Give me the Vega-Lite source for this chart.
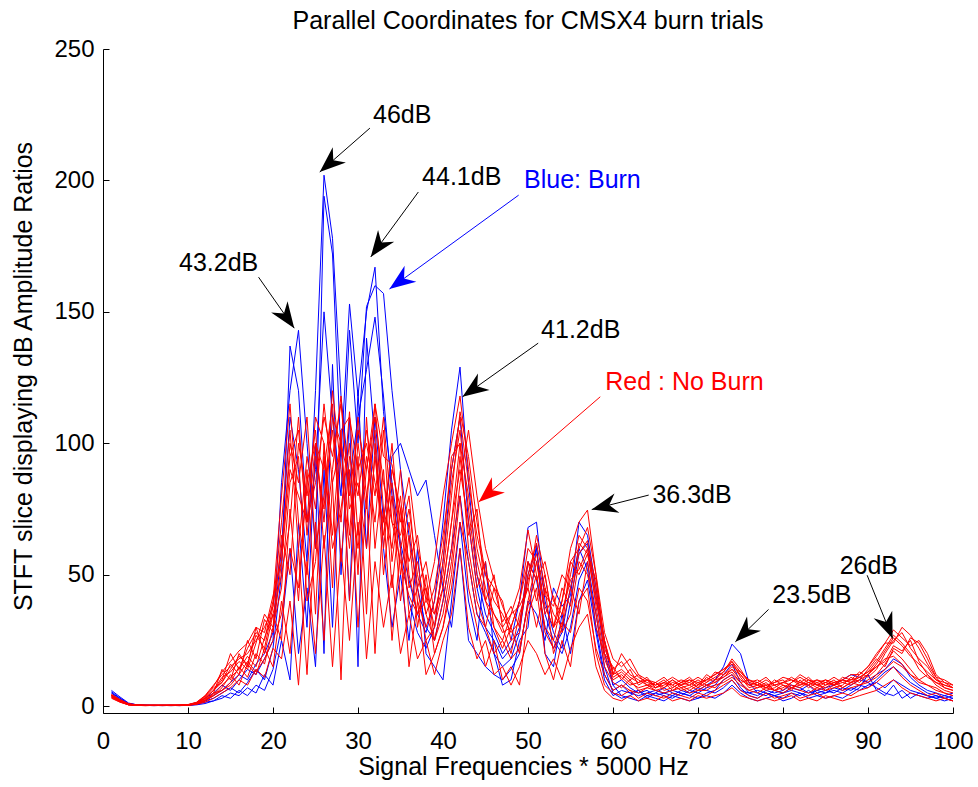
{
"$schema":"https://vega.github.io/schema/vega-lite/v6.json",
"autosize":{"type":"none"},
"width":850,"height":664,
"padding":{"left":103,"top":49,"right":25,"bottom":74},
"background":"white",
"title":{"text":"Parallel Coordinates for CMSX4 burn trials","font":"Liberation Sans","fontSize":25,"fontWeight":"normal","color":"black","anchor":"middle","offset":3},
"config":{"view":{"stroke":null},"font":"Liberation Sans",
"axis":{"grid":false,"domainColor":"black","domainWidth":1,"tickColor":"black","tickSize":-6,"labelFont":"Liberation Sans","labelFontSize":24,"labelColor":"black","titleFont":"Liberation Sans","titleFontSize":25,"titleFontWeight":"normal","titleColor":"black","labelFlush":false}},
"datasets":{
"notes":[
{"t":"46dB","k":"note","tx":35.2,"ty":224.9,"ax":31.4,"ay":219.9,"bx":25.5,"by":203.2},
{"t":"44.1dB","k":"note","tx":42.2,"ty":201.3,"ax":37.1,"ay":195.6,"bx":31.5,"by":170.9},
{"t":"Blue: Burn","k":"burn","tx":56.4,"ty":200.2,"ax":48.9,"ay":194.4,"bx":33.7,"by":158.7},
{"t":"43.2dB","k":"note","tx":13.6,"ty":168.6,"ax":18.3,"ay":163.2,"bx":22.5,"by":143.8},
{"t":"41.2dB","k":"note","tx":56.2,"ty":143.1,"ax":51.2,"ay":138.1,"bx":42.3,"by":117.7},
{"t":"Red : No Burn","k":"noburn","tx":68.4,"ty":123.3,"ax":58.5,"ay":117.7,"bx":44.2,"by":77.7},
{"t":"36.3dB","k":"note","tx":69.3,"ty":80.3,"ax":64.2,"ay":80.3,"bx":57.5,"by":74.8},
{"t":"23.5dB","k":"note","tx":83.4,"ty":42.2,"ax":78.3,"ay":36.8,"bx":74.4,"by":24.5},
{"t":"26dB","k":"note","tx":90.1,"ty":53.3,"ax":89.9,"ay":49.8,"bx":92.9,"by":25.7}
],
"lines":[
{"s":"b1","x":1,"y":5.5},{"s":"b1","x":2,"y":3},{"s":"b1","x":3,"y":1},{"s":"b1","x":4,"y":0.5},{"s":"b1","x":5,"y":0.3},{"s":"b1","x":6,"y":0.3},{"s":"b1","x":7,"y":0.3},{"s":"b1","x":8,"y":0.2},{"s":"b1","x":9,"y":0.3},{"s":"b1","x":10,"y":0.4},
{"s":"b1","x":11,"y":1},{"s":"b1","x":12,"y":2},{"s":"b1","x":13,"y":4},{"s":"b1","x":14,"y":6},{"s":"b1","x":15,"y":9},{"s":"b1","x":16,"y":12},{"s":"b1","x":17,"y":10},{"s":"b1","x":18,"y":16},{"s":"b1","x":19,"y":20},{"s":"b1","x":20,"y":28},
{"s":"b1","x":21,"y":60},{"s":"b1","x":22,"y":110},{"s":"b1","x":23,"y":90},{"s":"b1","x":24,"y":55},{"s":"b1","x":25,"y":120},{"s":"b1","x":26,"y":202},{"s":"b1","x":27,"y":178},{"s":"b1","x":28,"y":118},{"s":"b1","x":29,"y":85},{"s":"b1","x":30,"y":110},
{"s":"b1","x":31,"y":128},{"s":"b1","x":32,"y":148},{"s":"b1","x":33,"y":118},{"s":"b1","x":34,"y":80},{"s":"b1","x":35,"y":60},{"s":"b1","x":36,"y":40},{"s":"b1","x":37,"y":28},{"s":"b1","x":38,"y":22},{"s":"b1","x":39,"y":30},{"s":"b1","x":40,"y":55},
{"s":"b1","x":41,"y":90},{"s":"b1","x":42,"y":110},{"s":"b1","x":43,"y":70},{"s":"b1","x":44,"y":45},{"s":"b1","x":45,"y":30},{"s":"b1","x":46,"y":25},{"s":"b1","x":47,"y":18},{"s":"b1","x":48,"y":22},{"s":"b1","x":49,"y":30},{"s":"b1","x":50,"y":55},
{"s":"b1","x":51,"y":48},{"s":"b1","x":52,"y":30},{"s":"b1","x":53,"y":22},{"s":"b1","x":54,"y":28},{"s":"b1","x":55,"y":45},{"s":"b1","x":56,"y":60},{"s":"b1","x":57,"y":52},{"s":"b1","x":58,"y":30},{"s":"b1","x":59,"y":12},{"s":"b1","x":60,"y":6},
{"s":"b1","x":61,"y":8},{"s":"b1","x":62,"y":5},{"s":"b1","x":63,"y":6},{"s":"b1","x":64,"y":4},{"s":"b1","x":65,"y":5},{"s":"b1","x":66,"y":7},{"s":"b1","x":67,"y":5},{"s":"b1","x":68,"y":4},{"s":"b1","x":69,"y":6},{"s":"b1","x":70,"y":5},
{"s":"b1","x":71,"y":7},{"s":"b1","x":72,"y":8},{"s":"b1","x":73,"y":12},{"s":"b1","x":74,"y":16},{"s":"b1","x":75,"y":9},{"s":"b1","x":76,"y":5},{"s":"b1","x":77,"y":4},{"s":"b1","x":78,"y":6},{"s":"b1","x":79,"y":5},{"s":"b1","x":80,"y":6},
{"s":"b1","x":81,"y":8},{"s":"b1","x":82,"y":7},{"s":"b1","x":83,"y":5},{"s":"b1","x":84,"y":6},{"s":"b1","x":85,"y":5},{"s":"b1","x":86,"y":7},{"s":"b1","x":87,"y":6},{"s":"b1","x":88,"y":8},{"s":"b1","x":89,"y":10},{"s":"b1","x":90,"y":9},
{"s":"b1","x":91,"y":12},{"s":"b1","x":92,"y":14},{"s":"b1","x":93,"y":18},{"s":"b1","x":94,"y":16},{"s":"b1","x":95,"y":11},{"s":"b1","x":96,"y":8},{"s":"b1","x":97,"y":6},{"s":"b1","x":98,"y":5},{"s":"b1","x":99,"y":4},{"s":"b1","x":100,"y":5},
{"s":"b2","x":1,"y":5},{"s":"b2","x":2,"y":3},{"s":"b2","x":3,"y":1},{"s":"b2","x":4,"y":0.4},{"s":"b2","x":5,"y":0.3},{"s":"b2","x":6,"y":0.3},{"s":"b2","x":7,"y":0.2},{"s":"b2","x":8,"y":0.3},{"s":"b2","x":9,"y":0.3},{"s":"b2","x":10,"y":0.5},
{"s":"b2","x":11,"y":1.2},{"s":"b2","x":12,"y":3},{"s":"b2","x":13,"y":5},{"s":"b2","x":14,"y":8},{"s":"b2","x":15,"y":6},{"s":"b2","x":16,"y":10},{"s":"b2","x":17,"y":14},{"s":"b2","x":18,"y":12},{"s":"b2","x":19,"y":18},{"s":"b2","x":20,"y":25},
{"s":"b2","x":21,"y":85},{"s":"b2","x":22,"y":120},{"s":"b2","x":23,"y":143},{"s":"b2","x":24,"y":100},{"s":"b2","x":25,"y":60},{"s":"b2","x":26,"y":194},{"s":"b2","x":27,"y":172},{"s":"b2","x":28,"y":95},{"s":"b2","x":29,"y":153},{"s":"b2","x":30,"y":118},
{"s":"b2","x":31,"y":150},{"s":"b2","x":32,"y":167},{"s":"b2","x":33,"y":112},{"s":"b2","x":34,"y":85},{"s":"b2","x":35,"y":62},{"s":"b2","x":36,"y":48},{"s":"b2","x":37,"y":35},{"s":"b2","x":38,"y":28},{"s":"b2","x":39,"y":40},{"s":"b2","x":40,"y":70},
{"s":"b2","x":41,"y":105},{"s":"b2","x":42,"y":129},{"s":"b2","x":43,"y":85},{"s":"b2","x":44,"y":50},{"s":"b2","x":45,"y":35},{"s":"b2","x":46,"y":28},{"s":"b2","x":47,"y":20},{"s":"b2","x":48,"y":25},{"s":"b2","x":49,"y":40},{"s":"b2","x":50,"y":68},
{"s":"b2","x":51,"y":70},{"s":"b2","x":52,"y":40},{"s":"b2","x":53,"y":28},{"s":"b2","x":54,"y":22},{"s":"b2","x":55,"y":40},{"s":"b2","x":56,"y":58},{"s":"b2","x":57,"y":62},{"s":"b2","x":58,"y":42},{"s":"b2","x":59,"y":20},{"s":"b2","x":60,"y":8},
{"s":"b2","x":61,"y":10},{"s":"b2","x":62,"y":7},{"s":"b2","x":63,"y":5},{"s":"b2","x":64,"y":6},{"s":"b2","x":65,"y":4},{"s":"b2","x":66,"y":5},{"s":"b2","x":67,"y":6},{"s":"b2","x":68,"y":5},{"s":"b2","x":69,"y":4},{"s":"b2","x":70,"y":6},
{"s":"b2","x":71,"y":8},{"s":"b2","x":72,"y":10},{"s":"b2","x":73,"y":15},{"s":"b2","x":74,"y":23.6},{"s":"b2","x":75,"y":20},{"s":"b2","x":76,"y":9},{"s":"b2","x":77,"y":5},{"s":"b2","x":78,"y":4},{"s":"b2","x":79,"y":6},{"s":"b2","x":80,"y":5},
{"s":"b2","x":81,"y":7},{"s":"b2","x":82,"y":6},{"s":"b2","x":83,"y":8},{"s":"b2","x":84,"y":5},{"s":"b2","x":85,"y":6},{"s":"b2","x":86,"y":5},{"s":"b2","x":87,"y":7},{"s":"b2","x":88,"y":6},{"s":"b2","x":89,"y":8},{"s":"b2","x":90,"y":7},
{"s":"b2","x":91,"y":10},{"s":"b2","x":92,"y":13},{"s":"b2","x":93,"y":15},{"s":"b2","x":94,"y":12},{"s":"b2","x":95,"y":9},{"s":"b2","x":96,"y":7},{"s":"b2","x":97,"y":5},{"s":"b2","x":98,"y":4},{"s":"b2","x":99,"y":3},{"s":"b2","x":100,"y":4},
{"s":"b3","x":1,"y":6},{"s":"b3","x":2,"y":3.5},{"s":"b3","x":3,"y":1.2},{"s":"b3","x":4,"y":0.5},{"s":"b3","x":5,"y":0.4},{"s":"b3","x":6,"y":0.3},{"s":"b3","x":7,"y":0.3},{"s":"b3","x":8,"y":0.3},{"s":"b3","x":9,"y":0.2},{"s":"b3","x":10,"y":0.4},
{"s":"b3","x":11,"y":0.8},{"s":"b3","x":12,"y":2},{"s":"b3","x":13,"y":3},{"s":"b3","x":14,"y":5},{"s":"b3","x":15,"y":7},{"s":"b3","x":16,"y":5},{"s":"b3","x":17,"y":9},{"s":"b3","x":18,"y":14},{"s":"b3","x":19,"y":10},{"s":"b3","x":20,"y":22},
{"s":"b3","x":21,"y":50},{"s":"b3","x":22,"y":137},{"s":"b3","x":23,"y":120},{"s":"b3","x":24,"y":70},{"s":"b3","x":25,"y":90},{"s":"b3","x":26,"y":150},{"s":"b3","x":27,"y":110},{"s":"b3","x":28,"y":80},{"s":"b3","x":29,"y":143},{"s":"b3","x":30,"y":100},
{"s":"b3","x":31,"y":152},{"s":"b3","x":32,"y":160},{"s":"b3","x":33,"y":157},{"s":"b3","x":34,"y":120},{"s":"b3","x":35,"y":90},{"s":"b3","x":36,"y":65},{"s":"b3","x":37,"y":45},{"s":"b3","x":38,"y":30},{"s":"b3","x":39,"y":25},{"s":"b3","x":40,"y":40},
{"s":"b3","x":41,"y":60},{"s":"b3","x":42,"y":80},{"s":"b3","x":43,"y":55},{"s":"b3","x":44,"y":35},{"s":"b3","x":45,"y":28},{"s":"b3","x":46,"y":20},{"s":"b3","x":47,"y":15},{"s":"b3","x":48,"y":18},{"s":"b3","x":49,"y":28},{"s":"b3","x":50,"y":50},
{"s":"b3","x":51,"y":60},{"s":"b3","x":52,"y":35},{"s":"b3","x":53,"y":25},{"s":"b3","x":54,"y":20},{"s":"b3","x":55,"y":30},{"s":"b3","x":56,"y":48},{"s":"b3","x":57,"y":55},{"s":"b3","x":58,"y":35},{"s":"b3","x":59,"y":15},{"s":"b3","x":60,"y":5},
{"s":"b3","x":61,"y":3},{"s":"b3","x":62,"y":4},{"s":"b3","x":63,"y":6},{"s":"b3","x":64,"y":3},{"s":"b3","x":65,"y":5},{"s":"b3","x":66,"y":4},{"s":"b3","x":67,"y":3},{"s":"b3","x":68,"y":5},{"s":"b3","x":69,"y":4},{"s":"b3","x":70,"y":3},
{"s":"b3","x":71,"y":5},{"s":"b3","x":72,"y":6},{"s":"b3","x":73,"y":10},{"s":"b3","x":74,"y":12},{"s":"b3","x":75,"y":7},{"s":"b3","x":76,"y":4},{"s":"b3","x":77,"y":3},{"s":"b3","x":78,"y":5},{"s":"b3","x":79,"y":4},{"s":"b3","x":80,"y":3},
{"s":"b3","x":81,"y":5},{"s":"b3","x":82,"y":4},{"s":"b3","x":83,"y":6},{"s":"b3","x":84,"y":4},{"s":"b3","x":85,"y":5},{"s":"b3","x":86,"y":6},{"s":"b3","x":87,"y":5},{"s":"b3","x":88,"y":7},{"s":"b3","x":89,"y":6},{"s":"b3","x":90,"y":8},
{"s":"b3","x":91,"y":9},{"s":"b3","x":92,"y":7},{"s":"b3","x":93,"y":10},{"s":"b3","x":94,"y":8},{"s":"b3","x":95,"y":6},{"s":"b3","x":96,"y":5},{"s":"b3","x":97,"y":4},{"s":"b3","x":98,"y":3},{"s":"b3","x":99,"y":4},{"s":"b3","x":100,"y":3},
{"s":"b4","x":1,"y":4},{"s":"b4","x":2,"y":2.5},{"s":"b4","x":3,"y":0.8},{"s":"b4","x":4,"y":0.4},{"s":"b4","x":5,"y":0.3},{"s":"b4","x":6,"y":0.2},{"s":"b4","x":7,"y":0.3},{"s":"b4","x":8,"y":0.3},{"s":"b4","x":9,"y":0.3},{"s":"b4","x":10,"y":0.3},
{"s":"b4","x":11,"y":0.7},{"s":"b4","x":12,"y":1.5},{"s":"b4","x":13,"y":2},{"s":"b4","x":14,"y":4},{"s":"b4","x":15,"y":3},{"s":"b4","x":16,"y":6},{"s":"b4","x":17,"y":4},{"s":"b4","x":18,"y":8},{"s":"b4","x":19,"y":6},{"s":"b4","x":20,"y":14},
{"s":"b4","x":21,"y":30},{"s":"b4","x":22,"y":60},{"s":"b4","x":23,"y":20},{"s":"b4","x":24,"y":45},{"s":"b4","x":25,"y":15},{"s":"b4","x":26,"y":90},{"s":"b4","x":27,"y":30},{"s":"b4","x":28,"y":100},{"s":"b4","x":29,"y":40},{"s":"b4","x":30,"y":120},
{"s":"b4","x":31,"y":60},{"s":"b4","x":32,"y":110},{"s":"b4","x":33,"y":70},{"s":"b4","x":34,"y":95},{"s":"b4","x":35,"y":100},{"s":"b4","x":36,"y":90},{"s":"b4","x":37,"y":80},{"s":"b4","x":38,"y":86},{"s":"b4","x":39,"y":65},{"s":"b4","x":40,"y":45},
{"s":"b4","x":41,"y":30},{"s":"b4","x":42,"y":60},{"s":"b4","x":43,"y":25},{"s":"b4","x":44,"y":20},{"s":"b4","x":45,"y":15},{"s":"b4","x":46,"y":12},{"s":"b4","x":47,"y":10},{"s":"b4","x":48,"y":14},{"s":"b4","x":49,"y":20},{"s":"b4","x":50,"y":40},
{"s":"b4","x":51,"y":35},{"s":"b4","x":52,"y":25},{"s":"b4","x":53,"y":45},{"s":"b4","x":54,"y":38},{"s":"b4","x":55,"y":42},{"s":"b4","x":56,"y":70},{"s":"b4","x":57,"y":65},{"s":"b4","x":58,"y":45},{"s":"b4","x":59,"y":25},{"s":"b4","x":60,"y":8},
{"s":"b4","x":61,"y":4},{"s":"b4","x":62,"y":3},{"s":"b4","x":63,"y":2},{"s":"b4","x":64,"y":4},{"s":"b4","x":65,"y":3},{"s":"b4","x":66,"y":2},{"s":"b4","x":67,"y":4},{"s":"b4","x":68,"y":3},{"s":"b4","x":69,"y":2},{"s":"b4","x":70,"y":3},
{"s":"b4","x":71,"y":4},{"s":"b4","x":72,"y":3},{"s":"b4","x":73,"y":5},{"s":"b4","x":74,"y":8},{"s":"b4","x":75,"y":5},{"s":"b4","x":76,"y":3},{"s":"b4","x":77,"y":2},{"s":"b4","x":78,"y":3},{"s":"b4","x":79,"y":4},{"s":"b4","x":80,"y":2},
{"s":"b4","x":81,"y":3},{"s":"b4","x":82,"y":5},{"s":"b4","x":83,"y":3},{"s":"b4","x":84,"y":4},{"s":"b4","x":85,"y":3},{"s":"b4","x":86,"y":4},{"s":"b4","x":87,"y":3},{"s":"b4","x":88,"y":5},{"s":"b4","x":89,"y":7},{"s":"b4","x":90,"y":12},
{"s":"b4","x":91,"y":6},{"s":"b4","x":92,"y":4},{"s":"b4","x":93,"y":8},{"s":"b4","x":94,"y":3},{"s":"b4","x":95,"y":5},{"s":"b4","x":96,"y":4},{"s":"b4","x":97,"y":3},{"s":"b4","x":98,"y":4},{"s":"b4","x":99,"y":3},{"s":"b4","x":100,"y":2},
{"s":"b5","x":1,"y":5},{"s":"b5","x":2,"y":2.5},{"s":"b5","x":3,"y":0.8},{"s":"b5","x":4,"y":0.3},{"s":"b5","x":5,"y":0.3},{"s":"b5","x":6,"y":0.3},{"s":"b5","x":7,"y":0.3},{"s":"b5","x":8,"y":0.3},{"s":"b5","x":9,"y":0.3},{"s":"b5","x":10,"y":0.3},
{"s":"b5","x":11,"y":0.5},{"s":"b5","x":12,"y":1},{"s":"b5","x":13,"y":2},{"s":"b5","x":14,"y":3},{"s":"b5","x":15,"y":5},{"s":"b5","x":16,"y":4},{"s":"b5","x":17,"y":7},{"s":"b5","x":18,"y":5},{"s":"b5","x":19,"y":12},{"s":"b5","x":20,"y":8},
{"s":"b5","x":21,"y":25},{"s":"b5","x":22,"y":10},{"s":"b5","x":23,"y":70},{"s":"b5","x":24,"y":30},{"s":"b5","x":25,"y":100},{"s":"b5","x":26,"y":20},{"s":"b5","x":27,"y":130},{"s":"b5","x":28,"y":50},{"s":"b5","x":29,"y":110},{"s":"b5","x":30,"y":15},
{"s":"b5","x":31,"y":140},{"s":"b5","x":32,"y":100},{"s":"b5","x":33,"y":60},{"s":"b5","x":34,"y":30},{"s":"b5","x":35,"y":50},{"s":"b5","x":36,"y":25},{"s":"b5","x":37,"y":60},{"s":"b5","x":38,"y":20},{"s":"b5","x":39,"y":15},{"s":"b5","x":40,"y":10},
{"s":"b5","x":41,"y":40},{"s":"b5","x":42,"y":70},{"s":"b5","x":43,"y":40},{"s":"b5","x":44,"y":25},{"s":"b5","x":45,"y":55},{"s":"b5","x":46,"y":20},{"s":"b5","x":47,"y":8},{"s":"b5","x":48,"y":10},{"s":"b5","x":49,"y":25},{"s":"b5","x":50,"y":30},
{"s":"b5","x":51,"y":62},{"s":"b5","x":52,"y":20},{"s":"b5","x":53,"y":15},{"s":"b5","x":54,"y":35},{"s":"b5","x":55,"y":20},{"s":"b5","x":56,"y":40},{"s":"b5","x":57,"y":48},{"s":"b5","x":58,"y":28},{"s":"b5","x":59,"y":10},{"s":"b5","x":60,"y":4},
{"s":"b5","x":61,"y":6},{"s":"b5","x":62,"y":5},{"s":"b5","x":63,"y":4},{"s":"b5","x":64,"y":5},{"s":"b5","x":65,"y":6},{"s":"b5","x":66,"y":5},{"s":"b5","x":67,"y":4},{"s":"b5","x":68,"y":6},{"s":"b5","x":69,"y":5},{"s":"b5","x":70,"y":7},
{"s":"b5","x":71,"y":6},{"s":"b5","x":72,"y":5},{"s":"b5","x":73,"y":7},{"s":"b5","x":74,"y":10},{"s":"b5","x":75,"y":6},{"s":"b5","x":76,"y":5},{"s":"b5","x":77,"y":6},{"s":"b5","x":78,"y":5},{"s":"b5","x":79,"y":4},{"s":"b5","x":80,"y":5},
{"s":"b5","x":81,"y":6},{"s":"b5","x":82,"y":5},{"s":"b5","x":83,"y":4},{"s":"b5","x":84,"y":6},{"s":"b5","x":85,"y":7},{"s":"b5","x":86,"y":8},{"s":"b5","x":87,"y":10},{"s":"b5","x":88,"y":12},{"s":"b5","x":89,"y":11},{"s":"b5","x":90,"y":9},
{"s":"b5","x":91,"y":7},{"s":"b5","x":92,"y":5},{"s":"b5","x":93,"y":4},{"s":"b5","x":94,"y":6},{"s":"b5","x":95,"y":3},{"s":"b5","x":96,"y":5},{"s":"b5","x":97,"y":4},{"s":"b5","x":98,"y":3},{"s":"b5","x":99,"y":2},{"s":"b5","x":100,"y":3},
{"s":"r1","x":1,"y":4.5},{"s":"r1","x":2,"y":2.5},{"s":"r1","x":3,"y":1},{"s":"r1","x":4,"y":0.5},{"s":"r1","x":5,"y":0.4},{"s":"r1","x":6,"y":0.4},{"s":"r1","x":7,"y":0.3},{"s":"r1","x":8,"y":0.4},{"s":"r1","x":9,"y":0.4},{"s":"r1","x":10,"y":0.6},
{"s":"r1","x":11,"y":1.5},{"s":"r1","x":12,"y":4},{"s":"r1","x":13,"y":8},{"s":"r1","x":14,"y":12},{"s":"r1","x":15,"y":15},{"s":"r1","x":16,"y":18},{"s":"r1","x":17,"y":20},{"s":"r1","x":18,"y":25},{"s":"r1","x":19,"y":30},{"s":"r1","x":20,"y":38},
{"s":"r1","x":21,"y":60},{"s":"r1","x":22,"y":95},{"s":"r1","x":23,"y":105},{"s":"r1","x":24,"y":70},{"s":"r1","x":25,"y":85},{"s":"r1","x":26,"y":110},{"s":"r1","x":27,"y":95},{"s":"r1","x":28,"y":115},{"s":"r1","x":29,"y":80},{"s":"r1","x":30,"y":105},
{"s":"r1","x":31,"y":90},{"s":"r1","x":32,"y":110},{"s":"r1","x":33,"y":85},{"s":"r1","x":34,"y":70},{"s":"r1","x":35,"y":55},{"s":"r1","x":36,"y":42},{"s":"r1","x":37,"y":35},{"s":"r1","x":38,"y":40},{"s":"r1","x":39,"y":55},{"s":"r1","x":40,"y":80},
{"s":"r1","x":41,"y":100},{"s":"r1","x":42,"y":118},{"s":"r1","x":43,"y":90},{"s":"r1","x":44,"y":60},{"s":"r1","x":45,"y":45},{"s":"r1","x":46,"y":35},{"s":"r1","x":47,"y":28},{"s":"r1","x":48,"y":30},{"s":"r1","x":49,"y":40},{"s":"r1","x":50,"y":60},
{"s":"r1","x":51,"y":55},{"s":"r1","x":52,"y":38},{"s":"r1","x":53,"y":30},{"s":"r1","x":54,"y":35},{"s":"r1","x":55,"y":50},{"s":"r1","x":56,"y":65},{"s":"r1","x":57,"y":60},{"s":"r1","x":58,"y":38},{"s":"r1","x":59,"y":18},{"s":"r1","x":60,"y":10},
{"s":"r1","x":61,"y":12},{"s":"r1","x":62,"y":9},{"s":"r1","x":63,"y":7},{"s":"r1","x":64,"y":8},{"s":"r1","x":65,"y":6},{"s":"r1","x":66,"y":7},{"s":"r1","x":67,"y":9},{"s":"r1","x":68,"y":8},{"s":"r1","x":69,"y":6},{"s":"r1","x":70,"y":8},
{"s":"r1","x":71,"y":10},{"s":"r1","x":72,"y":12},{"s":"r1","x":73,"y":14},{"s":"r1","x":74,"y":16},{"s":"r1","x":75,"y":12},{"s":"r1","x":76,"y":8},{"s":"r1","x":77,"y":7},{"s":"r1","x":78,"y":8},{"s":"r1","x":79,"y":6},{"s":"r1","x":80,"y":7},
{"s":"r1","x":81,"y":9},{"s":"r1","x":82,"y":12},{"s":"r1","x":83,"y":10},{"s":"r1","x":84,"y":8},{"s":"r1","x":85,"y":9},{"s":"r1","x":86,"y":8},{"s":"r1","x":87,"y":9},{"s":"r1","x":88,"y":10},{"s":"r1","x":89,"y":11},{"s":"r1","x":90,"y":13},
{"s":"r1","x":91,"y":17},{"s":"r1","x":92,"y":22},{"s":"r1","x":93,"y":27},{"s":"r1","x":94,"y":24},{"s":"r1","x":95,"y":20},{"s":"r1","x":96,"y":14},{"s":"r1","x":97,"y":11},{"s":"r1","x":98,"y":9},{"s":"r1","x":99,"y":8},{"s":"r1","x":100,"y":7},
{"s":"r2","x":1,"y":4},{"s":"r2","x":2,"y":2},{"s":"r2","x":3,"y":0.7},{"s":"r2","x":4,"y":0.4},{"s":"r2","x":5,"y":0.3},{"s":"r2","x":6,"y":0.3},{"s":"r2","x":7,"y":0.3},{"s":"r2","x":8,"y":0.3},{"s":"r2","x":9,"y":0.3},{"s":"r2","x":10,"y":0.5},
{"s":"r2","x":11,"y":1},{"s":"r2","x":12,"y":3},{"s":"r2","x":13,"y":6},{"s":"r2","x":14,"y":10},{"s":"r2","x":15,"y":20},{"s":"r2","x":16,"y":14},{"s":"r2","x":17,"y":22},{"s":"r2","x":18,"y":28},{"s":"r2","x":19,"y":25},{"s":"r2","x":20,"y":40},
{"s":"r2","x":21,"y":80},{"s":"r2","x":22,"y":115},{"s":"r2","x":23,"y":70},{"s":"r2","x":24,"y":50},{"s":"r2","x":25,"y":95},{"s":"r2","x":26,"y":75},{"s":"r2","x":27,"y":120},{"s":"r2","x":28,"y":90},{"s":"r2","x":29,"y":60},{"s":"r2","x":30,"y":100},
{"s":"r2","x":31,"y":75},{"s":"r2","x":32,"y":115},{"s":"r2","x":33,"y":95},{"s":"r2","x":34,"y":92},{"s":"r2","x":35,"y":70},{"s":"r2","x":36,"y":87},{"s":"r2","x":37,"y":60},{"s":"r2","x":38,"y":45},{"s":"r2","x":39,"y":30},{"s":"r2","x":40,"y":55},
{"s":"r2","x":41,"y":85},{"s":"r2","x":42,"y":105},{"s":"r2","x":43,"y":75},{"s":"r2","x":44,"y":50},{"s":"r2","x":45,"y":40},{"s":"r2","x":46,"y":30},{"s":"r2","x":47,"y":25},{"s":"r2","x":48,"y":35},{"s":"r2","x":49,"y":45},{"s":"r2","x":50,"y":67},
{"s":"r2","x":51,"y":50},{"s":"r2","x":52,"y":30},{"s":"r2","x":53,"y":25},{"s":"r2","x":54,"y":40},{"s":"r2","x":55,"y":60},{"s":"r2","x":56,"y":70},{"s":"r2","x":57,"y":74.6},{"s":"r2","x":58,"y":50},{"s":"r2","x":59,"y":22},{"s":"r2","x":60,"y":14},
{"s":"r2","x":61,"y":17},{"s":"r2","x":62,"y":12},{"s":"r2","x":63,"y":10},{"s":"r2","x":64,"y":8},{"s":"r2","x":65,"y":7},{"s":"r2","x":66,"y":9},{"s":"r2","x":67,"y":8},{"s":"r2","x":68,"y":6},{"s":"r2","x":69,"y":7},{"s":"r2","x":70,"y":9},
{"s":"r2","x":71,"y":7},{"s":"r2","x":72,"y":10},{"s":"r2","x":73,"y":13},{"s":"r2","x":74,"y":17},{"s":"r2","x":75,"y":11},{"s":"r2","x":76,"y":7},{"s":"r2","x":77,"y":8},{"s":"r2","x":78,"y":6},{"s":"r2","x":79,"y":7},{"s":"r2","x":80,"y":9},
{"s":"r2","x":81,"y":8},{"s":"r2","x":82,"y":7},{"s":"r2","x":83,"y":9},{"s":"r2","x":84,"y":8},{"s":"r2","x":85,"y":7},{"s":"r2","x":86,"y":9},{"s":"r2","x":87,"y":10},{"s":"r2","x":88,"y":9},{"s":"r2","x":89,"y":12},{"s":"r2","x":90,"y":15},
{"s":"r2","x":91,"y":20},{"s":"r2","x":92,"y":24},{"s":"r2","x":93,"y":29},{"s":"r2","x":94,"y":26},{"s":"r2","x":95,"y":23},{"s":"r2","x":96,"y":25},{"s":"r2","x":97,"y":20},{"s":"r2","x":98,"y":12},{"s":"r2","x":99,"y":9},{"s":"r2","x":100,"y":8},
{"s":"r3","x":1,"y":3.5},{"s":"r3","x":2,"y":2},{"s":"r3","x":3,"y":0.6},{"s":"r3","x":4,"y":0.3},{"s":"r3","x":5,"y":0.3},{"s":"r3","x":6,"y":0.2},{"s":"r3","x":7,"y":0.3},{"s":"r3","x":8,"y":0.3},{"s":"r3","x":9,"y":0.4},{"s":"r3","x":10,"y":0.5},
{"s":"r3","x":11,"y":1},{"s":"r3","x":12,"y":2.5},{"s":"r3","x":13,"y":5},{"s":"r3","x":14,"y":14},{"s":"r3","x":15,"y":10},{"s":"r3","x":16,"y":20},{"s":"r3","x":17,"y":15},{"s":"r3","x":18,"y":30},{"s":"r3","x":19,"y":20},{"s":"r3","x":20,"y":35},
{"s":"r3","x":21,"y":25},{"s":"r3","x":22,"y":75},{"s":"r3","x":23,"y":40},{"s":"r3","x":24,"y":90},{"s":"r3","x":25,"y":35},{"s":"r3","x":26,"y":100},{"s":"r3","x":27,"y":45},{"s":"r3","x":28,"y":105},{"s":"r3","x":29,"y":40},{"s":"r3","x":30,"y":95},
{"s":"r3","x":31,"y":35},{"s":"r3","x":32,"y":100},{"s":"r3","x":33,"y":50},{"s":"r3","x":34,"y":80},{"s":"r3","x":35,"y":40},{"s":"r3","x":36,"y":65},{"s":"r3","x":37,"y":30},{"s":"r3","x":38,"y":50},{"s":"r3","x":39,"y":25},{"s":"r3","x":40,"y":40},
{"s":"r3","x":41,"y":60},{"s":"r3","x":42,"y":95},{"s":"r3","x":43,"y":65},{"s":"r3","x":44,"y":75},{"s":"r3","x":45,"y":40},{"s":"r3","x":46,"y":50},{"s":"r3","x":47,"y":30},{"s":"r3","x":48,"y":20},{"s":"r3","x":49,"y":35},{"s":"r3","x":50,"y":45},
{"s":"r3","x":51,"y":30},{"s":"r3","x":52,"y":45},{"s":"r3","x":53,"y":20},{"s":"r3","x":54,"y":30},{"s":"r3","x":55,"y":45},{"s":"r3","x":56,"y":35},{"s":"r3","x":57,"y":55},{"s":"r3","x":58,"y":30},{"s":"r3","x":59,"y":20},{"s":"r3","x":60,"y":15},
{"s":"r3","x":61,"y":10},{"s":"r3","x":62,"y":14},{"s":"r3","x":63,"y":8},{"s":"r3","x":64,"y":10},{"s":"r3","x":65,"y":7},{"s":"r3","x":66,"y":9},{"s":"r3","x":67,"y":6},{"s":"r3","x":68,"y":8},{"s":"r3","x":69,"y":10},{"s":"r3","x":70,"y":7},
{"s":"r3","x":71,"y":11},{"s":"r3","x":72,"y":9},{"s":"r3","x":73,"y":12},{"s":"r3","x":74,"y":14},{"s":"r3","x":75,"y":10},{"s":"r3","x":76,"y":8},{"s":"r3","x":77,"y":9},{"s":"r3","x":78,"y":7},{"s":"r3","x":79,"y":10},{"s":"r3","x":80,"y":8},
{"s":"r3","x":81,"y":7},{"s":"r3","x":82,"y":9},{"s":"r3","x":83,"y":8},{"s":"r3","x":84,"y":6},{"s":"r3","x":85,"y":8},{"s":"r3","x":86,"y":10},{"s":"r3","x":87,"y":7},{"s":"r3","x":88,"y":9},{"s":"r3","x":89,"y":8},{"s":"r3","x":90,"y":10},
{"s":"r3","x":91,"y":12},{"s":"r3","x":92,"y":16},{"s":"r3","x":93,"y":21},{"s":"r3","x":94,"y":18},{"s":"r3","x":95,"y":14},{"s":"r3","x":96,"y":10},{"s":"r3","x":97,"y":12},{"s":"r3","x":98,"y":8},{"s":"r3","x":99,"y":6},{"s":"r3","x":100,"y":5},
{"s":"r4","x":1,"y":3},{"s":"r4","x":2,"y":1.5},{"s":"r4","x":3,"y":0.5},{"s":"r4","x":4,"y":0.3},{"s":"r4","x":5,"y":0.2},{"s":"r4","x":6,"y":0.3},{"s":"r4","x":7,"y":0.3},{"s":"r4","x":8,"y":0.2},{"s":"r4","x":9,"y":0.3},{"s":"r4","x":10,"y":0.4},
{"s":"r4","x":11,"y":0.8},{"s":"r4","x":12,"y":2},{"s":"r4","x":13,"y":4},{"s":"r4","x":14,"y":7},{"s":"r4","x":15,"y":12},{"s":"r4","x":16,"y":8},{"s":"r4","x":17,"y":16},{"s":"r4","x":18,"y":12},{"s":"r4","x":19,"y":22},{"s":"r4","x":20,"y":15},
{"s":"r4","x":21,"y":40},{"s":"r4","x":22,"y":20},{"s":"r4","x":23,"y":60},{"s":"r4","x":24,"y":12},{"s":"r4","x":25,"y":70},{"s":"r4","x":26,"y":25},{"s":"r4","x":27,"y":85},{"s":"r4","x":28,"y":10},{"s":"r4","x":29,"y":90},{"s":"r4","x":30,"y":30},
{"s":"r4","x":31,"y":80},{"s":"r4","x":32,"y":20},{"s":"r4","x":33,"y":75},{"s":"r4","x":34,"y":25},{"s":"r4","x":35,"y":60},{"s":"r4","x":36,"y":15},{"s":"r4","x":37,"y":40},{"s":"r4","x":38,"y":12},{"s":"r4","x":39,"y":20},{"s":"r4","x":40,"y":30},
{"s":"r4","x":41,"y":50},{"s":"r4","x":42,"y":80},{"s":"r4","x":43,"y":45},{"s":"r4","x":44,"y":30},{"s":"r4","x":45,"y":15},{"s":"r4","x":46,"y":25},{"s":"r4","x":47,"y":10},{"s":"r4","x":48,"y":15},{"s":"r4","x":49,"y":8},{"s":"r4","x":50,"y":35},
{"s":"r4","x":51,"y":45},{"s":"r4","x":52,"y":20},{"s":"r4","x":53,"y":10},{"s":"r4","x":54,"y":25},{"s":"r4","x":55,"y":15},{"s":"r4","x":56,"y":40},{"s":"r4","x":57,"y":45},{"s":"r4","x":58,"y":20},{"s":"r4","x":59,"y":8},{"s":"r4","x":60,"y":5},
{"s":"r4","x":61,"y":4},{"s":"r4","x":62,"y":6},{"s":"r4","x":63,"y":3},{"s":"r4","x":64,"y":5},{"s":"r4","x":65,"y":4},{"s":"r4","x":66,"y":3},{"s":"r4","x":67,"y":5},{"s":"r4","x":68,"y":4},{"s":"r4","x":69,"y":3},{"s":"r4","x":70,"y":5},
{"s":"r4","x":71,"y":4},{"s":"r4","x":72,"y":6},{"s":"r4","x":73,"y":8},{"s":"r4","x":74,"y":10},{"s":"r4","x":75,"y":6},{"s":"r4","x":76,"y":4},{"s":"r4","x":77,"y":3},{"s":"r4","x":78,"y":5},{"s":"r4","x":79,"y":3},{"s":"r4","x":80,"y":4},
{"s":"r4","x":81,"y":5},{"s":"r4","x":82,"y":3},{"s":"r4","x":83,"y":4},{"s":"r4","x":84,"y":5},{"s":"r4","x":85,"y":3},{"s":"r4","x":86,"y":4},{"s":"r4","x":87,"y":5},{"s":"r4","x":88,"y":4},{"s":"r4","x":89,"y":6},{"s":"r4","x":90,"y":7},
{"s":"r4","x":91,"y":9},{"s":"r4","x":92,"y":12},{"s":"r4","x":93,"y":15},{"s":"r4","x":94,"y":11},{"s":"r4","x":95,"y":8},{"s":"r4","x":96,"y":6},{"s":"r4","x":97,"y":4},{"s":"r4","x":98,"y":5},{"s":"r4","x":99,"y":3},{"s":"r4","x":100,"y":2},
{"s":"r5","x":1,"y":4},{"s":"r5","x":2,"y":2.2},{"s":"r5","x":3,"y":0.8},{"s":"r5","x":4,"y":0.4},{"s":"r5","x":5,"y":0.3},{"s":"r5","x":6,"y":0.3},{"s":"r5","x":7,"y":0.4},{"s":"r5","x":8,"y":0.3},{"s":"r5","x":9,"y":0.3},{"s":"r5","x":10,"y":0.4},
{"s":"r5","x":11,"y":1.2},{"s":"r5","x":12,"y":3.5},{"s":"r5","x":13,"y":7},{"s":"r5","x":14,"y":9},{"s":"r5","x":15,"y":16},{"s":"r5","x":16,"y":12},{"s":"r5","x":17,"y":25},{"s":"r5","x":18,"y":18},{"s":"r5","x":19,"y":33},{"s":"r5","x":20,"y":28},
{"s":"r5","x":21,"y":55},{"s":"r5","x":22,"y":100},{"s":"r5","x":23,"y":85},{"s":"r5","x":24,"y":110},{"s":"r5","x":25,"y":60},{"s":"r5","x":26,"y":80},{"s":"r5","x":27,"y":105},{"s":"r5","x":28,"y":70},{"s":"r5","x":29,"y":112},{"s":"r5","x":30,"y":65},
{"s":"r5","x":31,"y":95},{"s":"r5","x":32,"y":70},{"s":"r5","x":33,"y":105},{"s":"r5","x":34,"y":55},{"s":"r5","x":35,"y":80},{"s":"r5","x":36,"y":45},{"s":"r5","x":37,"y":55},{"s":"r5","x":38,"y":35},{"s":"r5","x":39,"y":45},{"s":"r5","x":40,"y":65},
{"s":"r5","x":41,"y":90},{"s":"r5","x":42,"y":110},{"s":"r5","x":43,"y":85},{"s":"r5","x":44,"y":65},{"s":"r5","x":45,"y":50},{"s":"r5","x":46,"y":40},{"s":"r5","x":47,"y":35},{"s":"r5","x":48,"y":28},{"s":"r5","x":49,"y":32},{"s":"r5","x":50,"y":50},
{"s":"r5","x":51,"y":62},{"s":"r5","x":52,"y":45},{"s":"r5","x":53,"y":35},{"s":"r5","x":54,"y":30},{"s":"r5","x":55,"y":55},{"s":"r5","x":56,"y":60},{"s":"r5","x":57,"y":68},{"s":"r5","x":58,"y":50},{"s":"r5","x":59,"y":28},{"s":"r5","x":60,"y":18},
{"s":"r5","x":61,"y":15},{"s":"r5","x":62,"y":18},{"s":"r5","x":63,"y":12},{"s":"r5","x":64,"y":10},{"s":"r5","x":65,"y":9},{"s":"r5","x":66,"y":11},{"s":"r5","x":67,"y":8},{"s":"r5","x":68,"y":10},{"s":"r5","x":69,"y":9},{"s":"r5","x":70,"y":11},
{"s":"r5","x":71,"y":9},{"s":"r5","x":72,"y":13},{"s":"r5","x":73,"y":12},{"s":"r5","x":74,"y":15},{"s":"r5","x":75,"y":13},{"s":"r5","x":76,"y":9},{"s":"r5","x":77,"y":10},{"s":"r5","x":78,"y":8},{"s":"r5","x":79,"y":9},{"s":"r5","x":80,"y":11},
{"s":"r5","x":81,"y":10},{"s":"r5","x":82,"y":8},{"s":"r5","x":83,"y":10},{"s":"r5","x":84,"y":9},{"s":"r5","x":85,"y":10},{"s":"r5","x":86,"y":8},{"s":"r5","x":87,"y":11},{"s":"r5","x":88,"y":10},{"s":"r5","x":89,"y":13},{"s":"r5","x":90,"y":11},
{"s":"r5","x":91,"y":14},{"s":"r5","x":92,"y":20},{"s":"r5","x":93,"y":25},{"s":"r5","x":94,"y":28},{"s":"r5","x":95,"y":22},{"s":"r5","x":96,"y":18},{"s":"r5","x":97,"y":15},{"s":"r5","x":98,"y":10},{"s":"r5","x":99,"y":9},{"s":"r5","x":100,"y":7},
{"s":"r6","x":1,"y":3.8},{"s":"r6","x":2,"y":1.8},{"s":"r6","x":3,"y":0.6},{"s":"r6","x":4,"y":0.4},{"s":"r6","x":5,"y":0.3},{"s":"r6","x":6,"y":0.3},{"s":"r6","x":7,"y":0.2},{"s":"r6","x":8,"y":0.3},{"s":"r6","x":9,"y":0.3},{"s":"r6","x":10,"y":0.4},
{"s":"r6","x":11,"y":0.9},{"s":"r6","x":12,"y":2},{"s":"r6","x":13,"y":5},{"s":"r6","x":14,"y":6},{"s":"r6","x":15,"y":9},{"s":"r6","x":16,"y":15},{"s":"r6","x":17,"y":11},{"s":"r6","x":18,"y":20},{"s":"r6","x":19,"y":16},{"s":"r6","x":20,"y":30},
{"s":"r6","x":21,"y":45},{"s":"r6","x":22,"y":85},{"s":"r6","x":23,"y":95},{"s":"r6","x":24,"y":40},{"s":"r6","x":25,"y":55},{"s":"r6","x":26,"y":95},{"s":"r6","x":27,"y":60},{"s":"r6","x":28,"y":75},{"s":"r6","x":29,"y":100},{"s":"r6","x":30,"y":50},
{"s":"r6","x":31,"y":110},{"s":"r6","x":32,"y":60},{"s":"r6","x":33,"y":90},{"s":"r6","x":34,"y":45},{"s":"r6","x":35,"y":75},{"s":"r6","x":36,"y":35},{"s":"r6","x":37,"y":45},{"s":"r6","x":38,"y":25},{"s":"r6","x":39,"y":30},{"s":"r6","x":40,"y":45},
{"s":"r6","x":41,"y":70},{"s":"r6","x":42,"y":90},{"s":"r6","x":43,"y":70},{"s":"r6","x":44,"y":45},{"s":"r6","x":45,"y":55},{"s":"r6","x":46,"y":30},{"s":"r6","x":47,"y":22},{"s":"r6","x":48,"y":30},{"s":"r6","x":49,"y":20},{"s":"r6","x":50,"y":40},
{"s":"r6","x":51,"y":55},{"s":"r6","x":52,"y":35},{"s":"r6","x":53,"y":42},{"s":"r6","x":54,"y":28},{"s":"r6","x":55,"y":35},{"s":"r6","x":56,"y":55},{"s":"r6","x":57,"y":50},{"s":"r6","x":58,"y":35},{"s":"r6","x":59,"y":15},{"s":"r6","x":60,"y":9},
{"s":"r6","x":61,"y":7},{"s":"r6","x":62,"y":10},{"s":"r6","x":63,"y":6},{"s":"r6","x":64,"y":7},{"s":"r6","x":65,"y":9},{"s":"r6","x":66,"y":6},{"s":"r6","x":67,"y":7},{"s":"r6","x":68,"y":9},{"s":"r6","x":69,"y":8},{"s":"r6","x":70,"y":6},
{"s":"r6","x":71,"y":8},{"s":"r6","x":72,"y":7},{"s":"r6","x":73,"y":10},{"s":"r6","x":74,"y":12},{"s":"r6","x":75,"y":9},{"s":"r6","x":76,"y":6},{"s":"r6","x":77,"y":7},{"s":"r6","x":78,"y":9},{"s":"r6","x":79,"y":6},{"s":"r6","x":80,"y":8},
{"s":"r6","x":81,"y":6},{"s":"r6","x":82,"y":10},{"s":"r6","x":83,"y":7},{"s":"r6","x":84,"y":9},{"s":"r6","x":85,"y":6},{"s":"r6","x":86,"y":7},{"s":"r6","x":87,"y":8},{"s":"r6","x":88,"y":11},{"s":"r6","x":89,"y":9},{"s":"r6","x":90,"y":12},
{"s":"r6","x":91,"y":15},{"s":"r6","x":92,"y":18},{"s":"r6","x":93,"y":19},{"s":"r6","x":94,"y":16},{"s":"r6","x":95,"y":12},{"s":"r6","x":96,"y":9},{"s":"r6","x":97,"y":8},{"s":"r6","x":98,"y":6},{"s":"r6","x":99,"y":5},{"s":"r6","x":100,"y":4},
{"s":"r7","x":1,"y":4.2},{"s":"r7","x":2,"y":2.3},{"s":"r7","x":3,"y":0.7},{"s":"r7","x":4,"y":0.3},{"s":"r7","x":5,"y":0.3},{"s":"r7","x":6,"y":0.3},{"s":"r7","x":7,"y":0.3},{"s":"r7","x":8,"y":0.4},{"s":"r7","x":9,"y":0.3},{"s":"r7","x":10,"y":0.6},
{"s":"r7","x":11,"y":1.3},{"s":"r7","x":12,"y":3},{"s":"r7","x":13,"y":6},{"s":"r7","x":14,"y":11},{"s":"r7","x":15,"y":13},{"s":"r7","x":16,"y":17},{"s":"r7","x":17,"y":14},{"s":"r7","x":18,"y":24},{"s":"r7","x":19,"y":35},{"s":"r7","x":20,"y":30},
{"s":"r7","x":21,"y":65},{"s":"r7","x":22,"y":50},{"s":"r7","x":23,"y":100},{"s":"r7","x":24,"y":80},{"s":"r7","x":25,"y":105},{"s":"r7","x":26,"y":60},{"s":"r7","x":27,"y":90},{"s":"r7","x":28,"y":118},{"s":"r7","x":29,"y":75},{"s":"r7","x":30,"y":85},
{"s":"r7","x":31,"y":60},{"s":"r7","x":32,"y":95},{"s":"r7","x":33,"y":65},{"s":"r7","x":34,"y":85},{"s":"r7","x":35,"y":50},{"s":"r7","x":36,"y":70},{"s":"r7","x":37,"y":40},{"s":"r7","x":38,"y":30},{"s":"r7","x":39,"y":40},{"s":"r7","x":40,"y":60},
{"s":"r7","x":41,"y":95},{"s":"r7","x":42,"y":100},{"s":"r7","x":43,"y":60},{"s":"r7","x":44,"y":40},{"s":"r7","x":45,"y":30},{"s":"r7","x":46,"y":45},{"s":"r7","x":47,"y":40},{"s":"r7","x":48,"y":25},{"s":"r7","x":49,"y":28},{"s":"r7","x":50,"y":55},
{"s":"r7","x":51,"y":40},{"s":"r7","x":52,"y":50},{"s":"r7","x":53,"y":30},{"s":"r7","x":54,"y":45},{"s":"r7","x":55,"y":38},{"s":"r7","x":56,"y":62},{"s":"r7","x":57,"y":58},{"s":"r7","x":58,"y":40},{"s":"r7","x":59,"y":25},{"s":"r7","x":60,"y":12},
{"s":"r7","x":61,"y":20},{"s":"r7","x":62,"y":15},{"s":"r7","x":63,"y":11},{"s":"r7","x":64,"y":9},{"s":"r7","x":65,"y":8},{"s":"r7","x":66,"y":10},{"s":"r7","x":67,"y":7},{"s":"r7","x":68,"y":9},{"s":"r7","x":69,"y":11},{"s":"r7","x":70,"y":8},
{"s":"r7","x":71,"y":12},{"s":"r7","x":72,"y":10},{"s":"r7","x":73,"y":11},{"s":"r7","x":74,"y":13},{"s":"r7","x":75,"y":9},{"s":"r7","x":76,"y":10},{"s":"r7","x":77,"y":8},{"s":"r7","x":78,"y":10},{"s":"r7","x":79,"y":8},{"s":"r7","x":80,"y":6},
{"s":"r7","x":81,"y":9},{"s":"r7","x":82,"y":11},{"s":"r7","x":83,"y":9},{"s":"r7","x":84,"y":7},{"s":"r7","x":85,"y":9},{"s":"r7","x":86,"y":11},{"s":"r7","x":87,"y":9},{"s":"r7","x":88,"y":8},{"s":"r7","x":89,"y":10},{"s":"r7","x":90,"y":14},
{"s":"r7","x":91,"y":18},{"s":"r7","x":92,"y":15},{"s":"r7","x":93,"y":22},{"s":"r7","x":94,"y":20},{"s":"r7","x":95,"y":26},{"s":"r7","x":96,"y":24},{"s":"r7","x":97,"y":18},{"s":"r7","x":98,"y":11},{"s":"r7","x":99,"y":7},{"s":"r7","x":100,"y":6},
{"s":"r8","x":1,"y":3.2},{"s":"r8","x":2,"y":1.6},{"s":"r8","x":3,"y":0.5},{"s":"r8","x":4,"y":0.3},{"s":"r8","x":5,"y":0.3},{"s":"r8","x":6,"y":0.3},{"s":"r8","x":7,"y":0.3},{"s":"r8","x":8,"y":0.3},{"s":"r8","x":9,"y":0.2},{"s":"r8","x":10,"y":0.3},
{"s":"r8","x":11,"y":0.7},{"s":"r8","x":12,"y":1.5},{"s":"r8","x":13,"y":3},{"s":"r8","x":14,"y":5},{"s":"r8","x":15,"y":7},{"s":"r8","x":16,"y":10},{"s":"r8","x":17,"y":8},{"s":"r8","x":18,"y":14},{"s":"r8","x":19,"y":11},{"s":"r8","x":20,"y":22},
{"s":"r8","x":21,"y":18},{"s":"r8","x":22,"y":40},{"s":"r8","x":23,"y":8},{"s":"r8","x":24,"y":55},{"s":"r8","x":25,"y":20},{"s":"r8","x":26,"y":65},{"s":"r8","x":27,"y":15},{"s":"r8","x":28,"y":60},{"s":"r8","x":29,"y":25},{"s":"r8","x":30,"y":70},
{"s":"r8","x":31,"y":18},{"s":"r8","x":32,"y":55},{"s":"r8","x":33,"y":30},{"s":"r8","x":34,"y":50},{"s":"r8","x":35,"y":20},{"s":"r8","x":36,"y":35},{"s":"r8","x":37,"y":18},{"s":"r8","x":38,"y":25},{"s":"r8","x":39,"y":12},{"s":"r8","x":40,"y":25},
{"s":"r8","x":41,"y":35},{"s":"r8","x":42,"y":60},{"s":"r8","x":43,"y":30},{"s":"r8","x":44,"y":18},{"s":"r8","x":45,"y":25},{"s":"r8","x":46,"y":12},{"s":"r8","x":47,"y":15},{"s":"r8","x":48,"y":8},{"s":"r8","x":49,"y":15},{"s":"r8","x":50,"y":25},
{"s":"r8","x":51,"y":20},{"s":"r8","x":52,"y":12},{"s":"r8","x":53,"y":18},{"s":"r8","x":54,"y":10},{"s":"r8","x":55,"y":22},{"s":"r8","x":56,"y":30},{"s":"r8","x":57,"y":35},{"s":"r8","x":58,"y":15},{"s":"r8","x":59,"y":6},{"s":"r8","x":60,"y":3},
{"s":"r8","x":61,"y":2},{"s":"r8","x":62,"y":4},{"s":"r8","x":63,"y":2},{"s":"r8","x":64,"y":3},{"s":"r8","x":65,"y":2},{"s":"r8","x":66,"y":4},{"s":"r8","x":67,"y":2},{"s":"r8","x":68,"y":3},{"s":"r8","x":69,"y":2},{"s":"r8","x":70,"y":4},
{"s":"r8","x":71,"y":3},{"s":"r8","x":72,"y":4},{"s":"r8","x":73,"y":5},{"s":"r8","x":74,"y":7},{"s":"r8","x":75,"y":4},{"s":"r8","x":76,"y":3},{"s":"r8","x":77,"y":2},{"s":"r8","x":78,"y":3},{"s":"r8","x":79,"y":2},{"s":"r8","x":80,"y":3},
{"s":"r8","x":81,"y":4},{"s":"r8","x":82,"y":2},{"s":"r8","x":83,"y":3},{"s":"r8","x":84,"y":2},{"s":"r8","x":85,"y":4},{"s":"r8","x":86,"y":3},{"s":"r8","x":87,"y":2},{"s":"r8","x":88,"y":3},{"s":"r8","x":89,"y":4},{"s":"r8","x":90,"y":5},
{"s":"r8","x":91,"y":6},{"s":"r8","x":92,"y":8},{"s":"r8","x":93,"y":10},{"s":"r8","x":94,"y":7},{"s":"r8","x":95,"y":5},{"s":"r8","x":96,"y":4},{"s":"r8","x":97,"y":3},{"s":"r8","x":98,"y":2},{"s":"r8","x":99,"y":3},{"s":"r8","x":100,"y":2},
{"s":"r9","x":1,"y":4.1},{"s":"r9","x":2,"y":2.1},{"s":"r9","x":3,"y":0.6},{"s":"r9","x":4,"y":0.3},{"s":"r9","x":5,"y":0.3},{"s":"r9","x":6,"y":0.3},{"s":"r9","x":7,"y":0.3},{"s":"r9","x":8,"y":0.3},{"s":"r9","x":9,"y":0.3},{"s":"r9","x":10,"y":0.5},
{"s":"r9","x":11,"y":1.1},{"s":"r9","x":12,"y":2.8},{"s":"r9","x":13,"y":6},{"s":"r9","x":14,"y":9},{"s":"r9","x":15,"y":14},{"s":"r9","x":16,"y":19},{"s":"r9","x":17,"y":16},{"s":"r9","x":18,"y":27},{"s":"r9","x":19,"y":22},{"s":"r9","x":20,"y":38},
{"s":"r9","x":21,"y":70},{"s":"r9","x":22,"y":105},{"s":"r9","x":23,"y":60},{"s":"r9","x":24,"y":95},{"s":"r9","x":25,"y":75},{"s":"r9","x":26,"y":115},{"s":"r9","x":27,"y":85},{"s":"r9","x":28,"y":100},{"s":"r9","x":29,"y":65},{"s":"r9","x":30,"y":110},
{"s":"r9","x":31,"y":80},{"s":"r9","x":32,"y":105},{"s":"r9","x":33,"y":60},{"s":"r9","x":34,"y":90},{"s":"r9","x":35,"y":75},{"s":"r9","x":36,"y":55},{"s":"r9","x":37,"y":65},{"s":"r9","x":38,"y":40},{"s":"r9","x":39,"y":35},{"s":"r9","x":40,"y":50},
{"s":"r9","x":41,"y":80},{"s":"r9","x":42,"y":112},{"s":"r9","x":43,"y":95},{"s":"r9","x":44,"y":70},{"s":"r9","x":45,"y":50},{"s":"r9","x":46,"y":45},{"s":"r9","x":47,"y":32},{"s":"r9","x":48,"y":38},{"s":"r9","x":49,"y":30},{"s":"r9","x":50,"y":48},
{"s":"r9","x":51,"y":58},{"s":"r9","x":52,"y":42},{"s":"r9","x":53,"y":38},{"s":"r9","x":54,"y":50},{"s":"r9","x":55,"y":45},{"s":"r9","x":56,"y":58},{"s":"r9","x":57,"y":63},{"s":"r9","x":58,"y":45},{"s":"r9","x":59,"y":20},{"s":"r9","x":60,"y":11},
{"s":"r9","x":61,"y":13},{"s":"r9","x":62,"y":10},{"s":"r9","x":63,"y":12},{"s":"r9","x":64,"y":8},{"s":"r9","x":65,"y":9},{"s":"r9","x":66,"y":7},{"s":"r9","x":67,"y":10},{"s":"r9","x":68,"y":8},{"s":"r9","x":69,"y":9},{"s":"r9","x":70,"y":7},
{"s":"r9","x":71,"y":9},{"s":"r9","x":72,"y":11},{"s":"r9","x":73,"y":13},{"s":"r9","x":74,"y":18},{"s":"r9","x":75,"y":14},{"s":"r9","x":76,"y":9},{"s":"r9","x":77,"y":8},{"s":"r9","x":78,"y":7},{"s":"r9","x":79,"y":9},{"s":"r9","x":80,"y":10},
{"s":"r9","x":81,"y":7},{"s":"r9","x":82,"y":8},{"s":"r9","x":83,"y":9},{"s":"r9","x":84,"y":10},{"s":"r9","x":85,"y":8},{"s":"r9","x":86,"y":9},{"s":"r9","x":87,"y":7},{"s":"r9","x":88,"y":9},{"s":"r9","x":89,"y":10},{"s":"r9","x":90,"y":12},
{"s":"r9","x":91,"y":16},{"s":"r9","x":92,"y":21},{"s":"r9","x":93,"y":26},{"s":"r9","x":94,"y":23},{"s":"r9","x":95,"y":19},{"s":"r9","x":96,"y":16},{"s":"r9","x":97,"y":13},{"s":"r9","x":98,"y":10},{"s":"r9","x":99,"y":8},{"s":"r9","x":100,"y":7},
{"s":"r10","x":1,"y":3.6},{"s":"r10","x":2,"y":1.9},{"s":"r10","x":3,"y":0.6},{"s":"r10","x":4,"y":0.3},{"s":"r10","x":5,"y":0.3},{"s":"r10","x":6,"y":0.3},{"s":"r10","x":7,"y":0.3},{"s":"r10","x":8,"y":0.3},{"s":"r10","x":9,"y":0.3},{"s":"r10","x":10,"y":0.4},
{"s":"r10","x":11,"y":1},{"s":"r10","x":12,"y":2.2},{"s":"r10","x":13,"y":4.5},{"s":"r10","x":14,"y":8},{"s":"r10","x":15,"y":11},{"s":"r10","x":16,"y":14},{"s":"r10","x":17,"y":19},{"s":"r10","x":18,"y":15},{"s":"r10","x":19,"y":26},{"s":"r10","x":20,"y":35},
{"s":"r10","x":21,"y":50},{"s":"r10","x":22,"y":70},{"s":"r10","x":23,"y":110},{"s":"r10","x":24,"y":65},{"s":"r10","x":25,"y":100},{"s":"r10","x":26,"y":90},{"s":"r10","x":27,"y":115},{"s":"r10","x":28,"y":55},{"s":"r10","x":29,"y":95},{"s":"r10","x":30,"y":80},
{"s":"r10","x":31,"y":105},{"s":"r10","x":32,"y":85},{"s":"r10","x":33,"y":70},{"s":"r10","x":34,"y":100},{"s":"r10","x":35,"y":60},{"s":"r10","x":36,"y":75},{"s":"r10","x":37,"y":50},{"s":"r10","x":38,"y":35},{"s":"r10","x":39,"y":25},{"s":"r10","x":40,"y":35},
{"s":"r10","x":41,"y":55},{"s":"r10","x":42,"y":85},{"s":"r10","x":43,"y":105},{"s":"r10","x":44,"y":80},{"s":"r10","x":45,"y":60},{"s":"r10","x":46,"y":48},{"s":"r10","x":47,"y":38},{"s":"r10","x":48,"y":30},{"s":"r10","x":49,"y":40},{"s":"r10","x":50,"y":55},
{"s":"r10","x":51,"y":48},{"s":"r10","x":52,"y":55},{"s":"r10","x":53,"y":40},{"s":"r10","x":54,"y":35},{"s":"r10","x":55,"y":48},{"s":"r10","x":56,"y":52},{"s":"r10","x":57,"y":60},{"s":"r10","x":58,"y":42},{"s":"r10","x":59,"y":25},{"s":"r10","x":60,"y":13},
{"s":"r10","x":61,"y":11},{"s":"r10","x":62,"y":8},{"s":"r10","x":63,"y":9},{"s":"r10","x":64,"y":11},{"s":"r10","x":65,"y":7},{"s":"r10","x":66,"y":8},{"s":"r10","x":67,"y":10},{"s":"r10","x":68,"y":7},{"s":"r10","x":69,"y":8},{"s":"r10","x":70,"y":10},
{"s":"r10","x":71,"y":8},{"s":"r10","x":72,"y":9},{"s":"r10","x":73,"y":11},{"s":"r10","x":74,"y":14},{"s":"r10","x":75,"y":12},{"s":"r10","x":76,"y":8},{"s":"r10","x":77,"y":9},{"s":"r10","x":78,"y":7},{"s":"r10","x":79,"y":8},{"s":"r10","x":80,"y":9},
{"s":"r10","x":81,"y":11},{"s":"r10","x":82,"y":9},{"s":"r10","x":83,"y":8},{"s":"r10","x":84,"y":10},{"s":"r10","x":85,"y":9},{"s":"r10","x":86,"y":8},{"s":"r10","x":87,"y":10},{"s":"r10","x":88,"y":9},{"s":"r10","x":89,"y":11},{"s":"r10","x":90,"y":13},
{"s":"r10","x":91,"y":15},{"s":"r10","x":92,"y":17},{"s":"r10","x":93,"y":23},{"s":"r10","x":94,"y":21},{"s":"r10","x":95,"y":25},{"s":"r10","x":96,"y":17},{"s":"r10","x":97,"y":12},{"s":"r10","x":98,"y":9},{"s":"r10","x":99,"y":7},{"s":"r10","x":100,"y":6},
{"s":"r11","x":1,"y":3.4},{"s":"r11","x":2,"y":1.7},{"s":"r11","x":3,"y":0.5},{"s":"r11","x":4,"y":0.3},{"s":"r11","x":5,"y":0.2},{"s":"r11","x":6,"y":0.3},{"s":"r11","x":7,"y":0.3},{"s":"r11","x":8,"y":0.3},{"s":"r11","x":9,"y":0.3},{"s":"r11","x":10,"y":0.4},
{"s":"r11","x":11,"y":0.9},{"s":"r11","x":12,"y":2.2},{"s":"r11","x":13,"y":4},{"s":"r11","x":14,"y":6},{"s":"r11","x":15,"y":8},{"s":"r11","x":16,"y":12},{"s":"r11","x":17,"y":17},{"s":"r11","x":18,"y":13},{"s":"r11","x":19,"y":18},{"s":"r11","x":20,"y":25},
{"s":"r11","x":21,"y":35},{"s":"r11","x":22,"y":60},{"s":"r11","x":23,"y":45},{"s":"r11","x":24,"y":85},{"s":"r11","x":25,"y":100},{"s":"r11","x":26,"y":70},{"s":"r11","x":27,"y":110},{"s":"r11","x":28,"y":100},{"s":"r11","x":29,"y":85},{"s":"r11","x":30,"y":60},
{"s":"r11","x":31,"y":90},{"s":"r11","x":32,"y":115},{"s":"r11","x":33,"y":75},{"s":"r11","x":34,"y":60},{"s":"r11","x":35,"y":90},{"s":"r11","x":36,"y":50},{"s":"r11","x":37,"y":35},{"s":"r11","x":38,"y":45},{"s":"r11","x":39,"y":20},{"s":"r11","x":40,"y":30},
{"s":"r11","x":41,"y":45},{"s":"r11","x":42,"y":70},{"s":"r11","x":43,"y":55},{"s":"r11","x":44,"y":35},{"s":"r11","x":45,"y":30},{"s":"r11","x":46,"y":20},{"s":"r11","x":47,"y":25},{"s":"r11","x":48,"y":18},{"s":"r11","x":49,"y":22},{"s":"r11","x":50,"y":38},
{"s":"r11","x":51,"y":50},{"s":"r11","x":52,"y":28},{"s":"r11","x":53,"y":22},{"s":"r11","x":54,"y":32},{"s":"r11","x":55,"y":28},{"s":"r11","x":56,"y":45},{"s":"r11","x":57,"y":40},{"s":"r11","x":58,"y":22},{"s":"r11","x":59,"y":12},{"s":"r11","x":60,"y":6},
{"s":"r11","x":61,"y":8},{"s":"r11","x":62,"y":6},{"s":"r11","x":63,"y":5},{"s":"r11","x":64,"y":7},{"s":"r11","x":65,"y":6},{"s":"r11","x":66,"y":5},{"s":"r11","x":67,"y":6},{"s":"r11","x":68,"y":7},{"s":"r11","x":69,"y":5},{"s":"r11","x":70,"y":6},
{"s":"r11","x":71,"y":6},{"s":"r11","x":72,"y":8},{"s":"r11","x":73,"y":9},{"s":"r11","x":74,"y":11},{"s":"r11","x":75,"y":8},{"s":"r11","x":76,"y":6},{"s":"r11","x":77,"y":5},{"s":"r11","x":78,"y":7},{"s":"r11","x":79,"y":6},{"s":"r11","x":80,"y":5},
{"s":"r11","x":81,"y":7},{"s":"r11","x":82,"y":6},{"s":"r11","x":83,"y":5},{"s":"r11","x":84,"y":7},{"s":"r11","x":85,"y":6},{"s":"r11","x":86,"y":8},{"s":"r11","x":87,"y":6},{"s":"r11","x":88,"y":7},{"s":"r11","x":89,"y":8},{"s":"r11","x":90,"y":9},
{"s":"r11","x":91,"y":11},{"s":"r11","x":92,"y":14},{"s":"r11","x":93,"y":17},{"s":"r11","x":94,"y":15},{"s":"r11","x":95,"y":12},{"s":"r11","x":96,"y":10},{"s":"r11","x":97,"y":8},{"s":"r11","x":98,"y":7},{"s":"r11","x":99,"y":5},{"s":"r11","x":100,"y":4},
{"s":"r12","x":1,"y":4.3},{"s":"r12","x":2,"y":2.4},{"s":"r12","x":3,"y":0.8},{"s":"r12","x":4,"y":0.4},{"s":"r12","x":5,"y":0.3},{"s":"r12","x":6,"y":0.3},{"s":"r12","x":7,"y":0.3},{"s":"r12","x":8,"y":0.3},{"s":"r12","x":9,"y":0.4},{"s":"r12","x":10,"y":0.5},
{"s":"r12","x":11,"y":1.4},{"s":"r12","x":12,"y":3.8},{"s":"r12","x":13,"y":7.5},{"s":"r12","x":14,"y":13},{"s":"r12","x":15,"y":17},{"s":"r12","x":16,"y":21},{"s":"r12","x":17,"y":24},{"s":"r12","x":18,"y":30},{"s":"r12","x":19,"y":28},{"s":"r12","x":20,"y":42},
{"s":"r12","x":21,"y":55},{"s":"r12","x":22,"y":90},{"s":"r12","x":23,"y":80},{"s":"r12","x":24,"y":70},{"s":"r12","x":25,"y":110},{"s":"r12","x":26,"y":100},{"s":"r12","x":27,"y":65},{"s":"r12","x":28,"y":105},{"s":"r12","x":29,"y":110},{"s":"r12","x":30,"y":90},
{"s":"r12","x":31,"y":100},{"s":"r12","x":32,"y":80},{"s":"r12","x":33,"y":110},{"s":"r12","x":34,"y":70},{"s":"r12","x":35,"y":65},{"s":"r12","x":36,"y":80},{"s":"r12","x":37,"y":45},{"s":"r12","x":38,"y":55},{"s":"r12","x":39,"y":35},{"s":"r12","x":40,"y":45},
{"s":"r12","x":41,"y":70},{"s":"r12","x":42,"y":100},{"s":"r12","x":43,"y":80},{"s":"r12","x":44,"y":55},{"s":"r12","x":45,"y":40},{"s":"r12","x":46,"y":35},{"s":"r12","x":47,"y":30},{"s":"r12","x":48,"y":35},{"s":"r12","x":49,"y":38},{"s":"r12","x":50,"y":45},
{"s":"r12","x":51,"y":65},{"s":"r12","x":52,"y":50},{"s":"r12","x":53,"y":30},{"s":"r12","x":54,"y":40},{"s":"r12","x":55,"y":55},{"s":"r12","x":56,"y":50},{"s":"r12","x":57,"y":58},{"s":"r12","x":58,"y":48},{"s":"r12","x":59,"y":24},{"s":"r12","x":60,"y":12},
{"s":"r12","x":61,"y":14},{"s":"r12","x":62,"y":11},{"s":"r12","x":63,"y":9},{"s":"r12","x":64,"y":10},{"s":"r12","x":65,"y":8},{"s":"r12","x":66,"y":9},{"s":"r12","x":67,"y":11},{"s":"r12","x":68,"y":9},{"s":"r12","x":69,"y":10},{"s":"r12","x":70,"y":9},
{"s":"r12","x":71,"y":10},{"s":"r12","x":72,"y":12},{"s":"r12","x":73,"y":14},{"s":"r12","x":74,"y":17},{"s":"r12","x":75,"y":13},{"s":"r12","x":76,"y":10},{"s":"r12","x":77,"y":9},{"s":"r12","x":78,"y":11},{"s":"r12","x":79,"y":8},{"s":"r12","x":80,"y":9},
{"s":"r12","x":81,"y":10},{"s":"r12","x":82,"y":9},{"s":"r12","x":83,"y":11},{"s":"r12","x":84,"y":8},{"s":"r12","x":85,"y":10},{"s":"r12","x":86,"y":9},{"s":"r12","x":87,"y":10},{"s":"r12","x":88,"y":12},{"s":"r12","x":89,"y":12},{"s":"r12","x":90,"y":15},
{"s":"r12","x":91,"y":19},{"s":"r12","x":92,"y":24},{"s":"r12","x":93,"y":24},{"s":"r12","x":94,"y":30},{"s":"r12","x":95,"y":27},{"s":"r12","x":96,"y":22},{"s":"r12","x":97,"y":16},{"s":"r12","x":98,"y":11},{"s":"r12","x":99,"y":10},{"s":"r12","x":100,"y":8}
]},
"layer":[
{"data":{"name":"lines"},
"transform":[{"filter":{"field":"s","oneOf":["b1","b2","b3","b4","b5"]}}],
"mark":{"type":"line","color":"#0000ff","strokeWidth":1,"clip":true},
"encoding":{
"x":{"field":"x","type":"quantitative","title":"Signal Frequencies * 5000 Hz","scale":{"domain":[0,100],"nice":false,"zero":false},
"axis":{"values":[0,10,20,30,40,50,60,70,80,90,100],"labelPadding":22,"titleX":420,"titleY":61,"titleBaseline":"alphabetic","titleAlign":"center"}},
"y":{"field":"y","type":"quantitative","title":"STFT slice displaying dB Amplitude Ratios","scale":{"domain":[-2.6,250],"nice":false,"zero":false},
"axis":{"values":[0,50,100,150,200,250],"labelPadding":15,"titleX":-72,"titleY":327,"titleBaseline":"alphabetic","titleAlign":"center","titleAngle":-90}},
"detail":{"field":"s","type":"nominal"}}},
{"data":{"name":"lines"},
"transform":[{"filter":{"field":"s","oneOf":["r1","r2","r3","r4","r5","r6","r7","r8","r9","r10","r11","r12"]}}],
"mark":{"type":"line","color":"#ff0000","strokeWidth":1,"clip":true},
"encoding":{
"x":{"field":"x","type":"quantitative","title":"Signal Frequencies * 5000 Hz"},
"y":{"field":"y","type":"quantitative","title":"STFT slice displaying dB Amplitude Ratios"},
"detail":{"field":"s","type":"nominal"}}},
{"data":{"name":"notes"},
"mark":{"type":"rule","strokeWidth":1},
"encoding":{
"x":{"field":"ax","type":"quantitative","title":"Signal Frequencies * 5000 Hz"},
"y":{"field":"ay","type":"quantitative","title":"STFT slice displaying dB Amplitude Ratios"},
"x2":{"field":"bx"},"y2":{"field":"by"},
"color":{"field":"k","type":"nominal","scale":{"domain":["note","burn","noburn"],"range":["#000000","#0000ff","#ff0000"]},"legend":null}}},
{"data":{"name":"notes"},
"transform":[{"calculate":"atan2((datum.bx-datum.ax)*8.5,(datum.by-datum.ay)*2.6287)*180/PI","as":"ang"}],
"mark":{"type":"point","filled":true,"opacity":1,"size":400,"strokeWidth":0,"shape":"M0,0L1,2.6L0,1.8L-1,2.6Z"},
"encoding":{
"x":{"field":"bx","type":"quantitative","title":"Signal Frequencies * 5000 Hz"},
"y":{"field":"by","type":"quantitative","title":"STFT slice displaying dB Amplitude Ratios"},
"angle":{"field":"ang","type":"quantitative","scale":null},
"color":{"field":"k","type":"nominal","legend":null}}},
{"data":{"name":"notes"},
"mark":{"type":"text","font":"Liberation Sans","fontSize":25,"align":"center","baseline":"middle"},
"encoding":{
"x":{"field":"tx","type":"quantitative","title":"Signal Frequencies * 5000 Hz"},
"y":{"field":"ty","type":"quantitative","title":"STFT slice displaying dB Amplitude Ratios"},
"text":{"field":"t"},
"color":{"field":"k","type":"nominal","legend":null}}}
]
}
